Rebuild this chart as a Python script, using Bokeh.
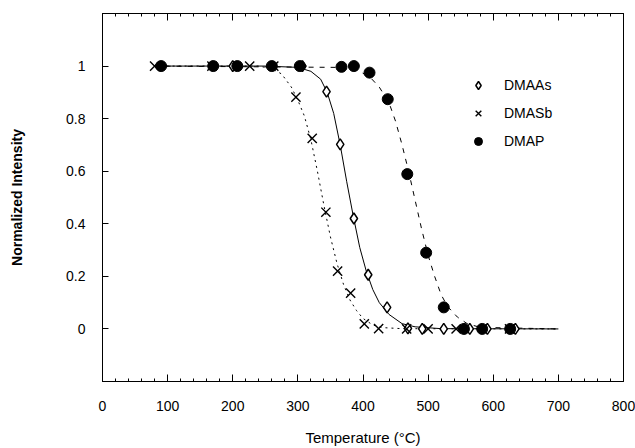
from bokeh.plotting import figure
from bokeh.models import LinearAxis, FixedTicker, Range1d, Legend, LegendItem
from bokeh.embed import file_html
from bokeh.resources import INLINE

# ---- measured points ----
dmaas_T = [200, 307, 344, 365, 386, 408, 437, 469, 491, 524, 564, 591, 634]
dmaas_I = [1.0, 1.0, 0.903, 0.702, 0.42, 0.206, 0.082, 0.002, 0.0, 0.0, 0.0, 0.0, 0.0]

dmasb_T = [80, 168, 226, 263, 297, 322, 343, 361, 381, 402, 424, 467, 500, 543, 625]
dmasb_I = [1.0, 1.0, 1.0, 1.0, 0.882, 0.725, 0.444, 0.22, 0.136, 0.019, 0.001, 0.0, 0.0, 0.0, 0.0]

dmap_T = [90, 170, 207, 260, 303, 367, 386, 410, 438, 468, 497, 524, 555, 583, 626]
dmap_I = [1.0, 1.0, 1.0, 1.0, 1.0, 0.997, 1.0, 0.975, 0.874, 0.589, 0.29, 0.082, 0.0, 0.0, 0.0]

# ---- fitted curves ----
fit_dmaas_T = [80, 250, 300, 320, 335, 345, 355, 365, 375, 385, 395, 405, 415, 425, 440, 460, 480, 520, 700]
fit_dmaas_I = [1.0, 1.0, 0.995, 0.98, 0.95, 0.90, 0.82, 0.70, 0.56, 0.43, 0.31, 0.22, 0.15, 0.10, 0.055, 0.02, 0.008, 0.001, 0.0]

fit_dmasb_T = [80, 240, 260, 275, 290, 300, 310, 320, 330, 340, 350, 360, 370, 380, 390, 400, 415, 430, 460, 700]
fit_dmasb_I = [1.0, 1.0, 0.99, 0.97, 0.92, 0.87, 0.81, 0.72, 0.60, 0.47, 0.35, 0.25, 0.17, 0.11, 0.07, 0.04, 0.015, 0.005, 0.001, 0.0]

fit_dmap_T = [80, 360, 390, 410, 425, 440, 450, 460, 470, 480, 490, 500, 510, 520, 530, 545, 560, 580, 700]
fit_dmap_I = [1.0, 0.995, 0.985, 0.96, 0.92, 0.86, 0.79, 0.70, 0.60, 0.49, 0.38, 0.28, 0.20, 0.13, 0.085, 0.045, 0.02, 0.006, 0.0]

x_ticks = [0, 100, 200, 300, 400, 500, 600, 700, 800]
x_minor = list(range(0, 801, 20))
y_ticks = [0, 0.2, 0.4, 0.6, 0.8, 1]
y_tick_labels = ["0", "0.2", "0.4", "0.6", "0.8", "1"]

FONT = "Liberation Sans"

p = figure(width=635, height=448, output_backend="svg", toolbar_location=None,
           x_range=Range1d(0, 800), y_range=Range1d(-0.2, 1.2),
           min_border_left=102, min_border_right=12, min_border_top=13, min_border_bottom=65,
           background_fill_color="white", border_fill_color="white")
p.grid.visible = False
p.outline_line_color = "black"
p.outline_line_width = 1

# curves
p.line(fit_dmasb_T, fit_dmasb_I, line_color="black", line_width=1, line_dash="2 4")
p.line(fit_dmap_T, fit_dmap_I, line_color="black", line_width=1, line_dash="5 6")
p.line(fit_dmaas_T, fit_dmaas_I, line_color="black", line_width=1)

# points
r_dmaas = p.scatter(dmaas_T, dmaas_I, marker="diamond", size=11, fill_color="white",
                    line_color="black", line_width=1.5)
r_dmasb = p.scatter(dmasb_T, dmasb_I, marker="x", size=13, line_color="black", line_width=1.4)
r_dmap = p.scatter(dmap_T, dmap_I, marker="circle", size=11, fill_color="black", line_color="black")

# axes
xa = p.xaxis[0]
xa.ticker = FixedTicker(ticks=x_ticks, minor_ticks=x_minor)
xa.major_tick_in = 7
xa.major_tick_out = 0
xa.minor_tick_in = 3
xa.minor_tick_out = 0
xa.axis_line_color = "black"
xa.major_label_standoff = 19
xa.major_label_text_font = FONT
xa.major_label_text_font_size = "14px"
xa.major_label_text_color = "black"
xa.axis_label = "Temperature (°C)"
xa.axis_label_text_font = FONT
xa.axis_label_text_font_size = "15px"
xa.axis_label_text_font_style = "normal"
xa.axis_label_text_color = "black"
xa.axis_label_standoff = 15

ya = p.yaxis[0]
ya.ticker = FixedTicker(ticks=y_ticks, minor_ticks=[])
ya.major_label_overrides = {t: s for t, s in zip(y_ticks, y_tick_labels)}
ya.major_tick_in = 6
ya.major_tick_out = 0
ya.minor_tick_line_color = None
ya.axis_line_color = "black"
ya.major_label_standoff = 17
ya.major_label_text_font = FONT
ya.major_label_text_font_size = "14px"
ya.major_label_text_color = "black"
ya.axis_label = "Normalized Intensity"
ya.axis_label_text_font = FONT
ya.axis_label_text_font_size = "14px"
ya.axis_label_text_font_style = "bold"
ya.axis_label_text_color = "black"
ya.axis_label_standoff = 38

top = LinearAxis(ticker=FixedTicker(ticks=x_ticks, minor_ticks=x_minor),
                 major_tick_in=7, major_tick_out=0, minor_tick_in=3, minor_tick_out=0,
                 major_label_overrides={t: "" for t in x_ticks},
                 major_label_text_font_size="1px", major_label_standoff=0,
                 axis_line_color="black")
p.add_layout(top, "above")

legend = Legend(items=[LegendItem(label="DMAAs", renderers=[r_dmaas]),
                       LegendItem(label="DMASb", renderers=[r_dmasb]),
                       LegendItem(label="DMAP", renderers=[r_dmap])],
                location=(366, 230), orientation="vertical",
                border_line_color=None, background_fill_alpha=0,
                padding=0, margin=0, spacing=8,
                glyph_width=20, glyph_height=20, label_height=20,
                label_standoff=16,
                label_text_font=FONT, label_text_font_size="14px", label_text_color="black")
p.add_layout(legend)

open("out.html", "w").write(file_html(p, INLINE))
